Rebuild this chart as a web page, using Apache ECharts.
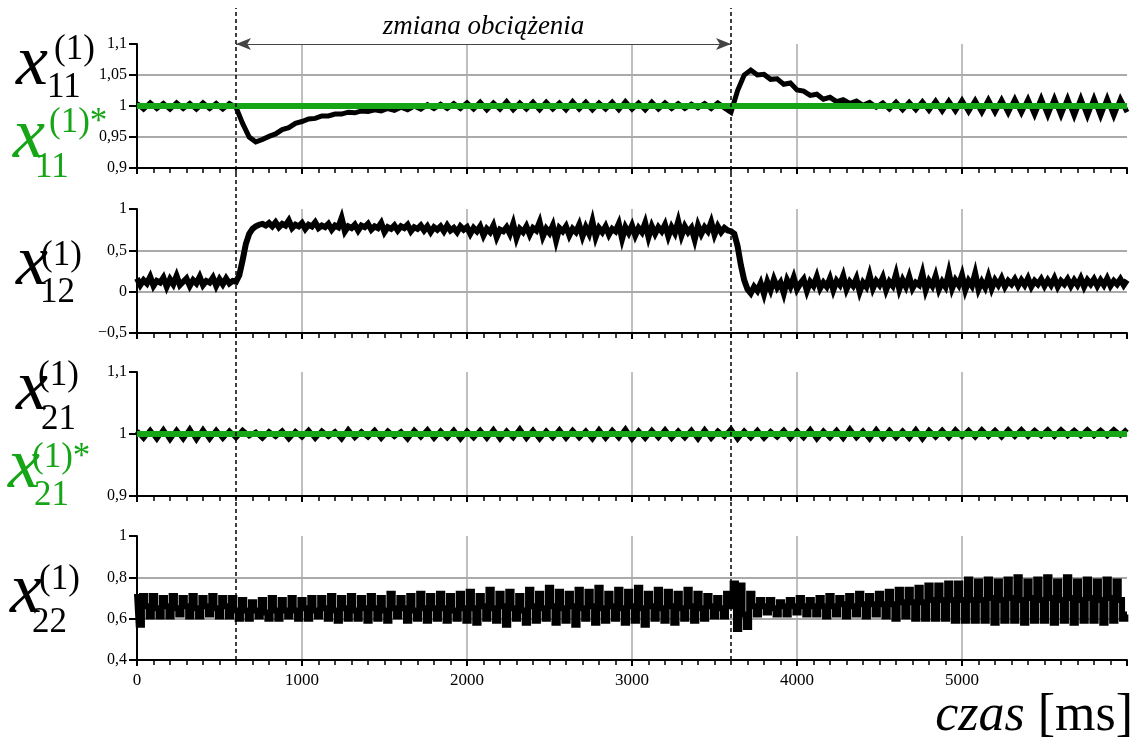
<!DOCTYPE html>
<html><head><meta charset="utf-8">
<script src="https://cdn.jsdelivr.net/npm/echarts@6/dist/echarts.min.js"></script>
<style>html,body{margin:0;padding:0;background:#fff}#c{width:1142px;height:744px}</style>
</head><body><div id="c"></div>
<script>
// ---------- data ----------
const X_MIN = 0, X_MAX = 6000, X_STEP = 1000;
const dt11 = 40, dt12 = 20, dt21 = 40, dt22 = 20;   // sample intervals [ms]
const eventTimes = [600, 3600];
const annotation = 'zmiana obciążenia';
const xTitleItalic = 'czas', xTitleUnit = '[ms]';

const x11 = [1.004,0.995,1.005,0.996,1.004,0.995,1.005,0.996,1.004,0.995,1.005,0.996,1.004,0.995,1.004,0.998,
 0.972,0.950,0.942,0.946,0.951,0.955,0.962,0.965,0.972,0.975,0.979,0.980,0.984,0.984,0.987,0.987,0.990,0.989,0.992,0.991,
 0.994,0.992,0.996,0.993,0.998,0.994,1.000,0.995,1.002,0.996,1.003,0.996,1.004,0.996,1.005,
 0.995,1.006,0.994,1.005,0.995,1.007,0.994,1.005,0.995,
 1.006,0.994,1.006,0.995,1.005,0.994,1.007,0.995,1.006,0.994,
 1.005,0.995,1.006,0.994,1.007,0.995,1.005,0.994,1.006,0.995,
 1.005,0.996,1.004,0.996,1.003,0.997,1.004,0.996,1.005,0.997,
 0.990,1.025,1.050,1.058,1.050,1.051,1.043,1.044,1.035,1.037,1.026,1.024,1.017,1.019,1.011,1.014,1.007,1.010,1.004,1.008,1.001,1.006,0.998,
 1.005,0.995,1.006,0.994,1.006,0.994,1.007,0.993,1.008,0.992,
 1.008,0.992,1.009,0.991,1.009,0.990,1.010,0.990,1.010,0.989,
 1.011,0.989,1.011,0.986,1.012,0.985,1.012,0.985,1.012,0.984,
 1.012,0.984,1.012,0.984,1.012,0.984,1.011,0.990];
const x11Ref = [1, 1];

const x12 = [
 0.16,0.08,0.14,0.10,0.18,0.07,0.13,0.11,0.17,0.06,0.15,0.09,0.19,0.08,0.12,0.16,0.07,0.14,0.10,0.18,
 0.08,0.13,0.11,0.17,0.07,0.15,0.09,0.16,0.10,0.13,0.12,
 0.20,0.38,0.58,0.70,0.76,0.79,0.81,0.82,0.80,0.83,
 0.79,0.84,0.78,0.82,0.80,0.86,0.77,0.81,0.79,0.83,
 0.76,0.81,0.79,0.84,0.77,0.80,0.78,0.82,0.75,0.80,
 0.78,0.89,0.73,0.79,0.77,0.81,0.74,0.80,0.78,0.82,
 0.75,0.79,0.77,0.83,0.72,0.78,0.76,0.80,0.74,0.79,
 0.77,0.81,0.73,0.78,0.76,0.80,0.74,0.79,0.72,0.78,
 0.75,0.79,0.73,0.80,0.74,0.77,0.72,0.79,0.75,0.78,
 0.70,0.77,0.73,0.79,0.68,0.76,0.72,0.80,0.66,0.75,
 0.73,0.78,0.70,0.82,0.65,0.76,0.72,0.79,0.69,0.77,
 0.74,0.84,0.67,0.76,0.71,0.80,0.62,0.77,0.73,0.79,
 0.68,0.76,0.72,0.81,0.67,0.78,0.70,0.85,0.66,0.77,
 0.72,0.79,0.69,0.76,0.73,0.82,0.64,0.78,0.71,0.80,
 0.68,0.77,0.72,0.83,0.66,0.79,0.70,0.78,0.73,0.81,
 0.67,0.78,0.71,0.85,0.68,0.79,0.72,0.77,0.63,0.80,
 0.70,0.78,0.73,0.84,0.69,0.79,0.72,0.77,0.74,0.73,
 0.70,0.55,0.32,0.14,0.03,-0.02,0.06,0.01,0.10,-0.03,
 0.12,0.02,0.15,0.05,0.11,-0.02,0.14,0.06,0.17,0.03,
 0.10,0.15,0.01,0.12,0.07,0.18,0.04,0.11,0.06,0.16,
 0.02,0.13,0.08,0.19,0.03,0.12,0.07,0.16,0.00,0.11,
 0.06,0.20,0.04,0.13,0.08,0.17,0.02,0.12,0.07,0.21,
 0.03,0.14,0.06,0.18,0.04,0.11,0.08,0.22,0.02,0.13,
 0.07,0.19,0.03,0.12,0.06,0.23,0.04,0.14,0.08,0.20,
 0.02,0.13,0.07,0.22,0.03,0.12,0.05,0.18,0.04,0.14,
 0.08,0.16,0.06,0.13,0.09,0.15,0.07,0.14,0.08,0.16,
 0.06,0.13,0.09,0.15,0.07,0.14,0.08,0.16,0.06,0.13,
 0.09,0.15,0.07,0.14,0.08,0.16,0.06,0.14,0.09,0.15,
 0.07,0.14,0.08,0.16,0.07,0.13,0.09,0.15,0.08,0.14];

const x21 = [1.005,0.993,1.006,0.992,1.007,0.991,1.006,0.992,1.008,0.991,1.007,0.992,1.006,0.993,1.005,0.994,
 1.006,0.997,1.003,0.993,1.004,0.996,1.005,0.992,1.004,0.995,1.006,0.993,1.005,0.996,1.004,0.992,1.007,0.994,1.004,0.995,
 1.006,0.993,1.005,0.996,1.004,0.992,1.006,0.995,1.007,0.993,1.005,0.994,1.006,0.992,1.005,
 0.994,1.006,0.993,1.007,0.992,1.005,0.994,1.008,0.993,1.006,0.992,1.005,0.994,1.007,0.993,1.006,0.994,1.005,0.992,1.007,
 0.993,1.006,0.994,1.008,0.992,1.005,0.993,1.006,0.994,1.007,0.993,1.005,0.994,1.006,0.992,1.007,0.993,1.005,0.996,
 1.008,0.992,1.005,0.994,1.006,0.993,1.004,0.995,1.006,0.993,
 1.005,0.994,1.007,0.992,1.005,0.994,1.006,0.993,1.008,0.994,
 1.005,0.992,1.007,0.993,1.006,0.994,1.005,0.993,1.007,0.992,
 1.006,0.995,1.006,0.994,1.007,0.996,1.006,0.995,1.007,0.996,
 1.006,0.995,1.007,0.996,1.007,0.996,1.006,0.997,1.007,0.996,
 1.007,0.997,1.006,0.997,1.007,0.997,1.006,0.997,1.007,0.998,1.008];
const x21Ref = [1, 1];

const x22 = [
 0.72,0.57,0.71, 0.66,0.61,0.71, 0.65,0.61,0.70, 0.66,0.61,0.71, 0.65,0.62,0.70, 0.66,0.61,0.71, 0.65,0.61,0.70,
 0.66,0.62,0.71, 0.65,0.61,0.70, 0.66,0.61,0.70, 0.64,
 0.60,0.69,0.64, 0.60,0.68,0.64, 0.61,0.69,0.63, 0.60,0.70,0.64, 0.60,0.69,0.64, 0.61,0.70,0.64, 0.60,0.69,0.65,
 0.60,0.70,0.64, 0.61,0.70,0.65, 0.60,0.71,0.64,
 0.59,0.70,0.65, 0.60,0.71,0.64, 0.60,0.70,0.65, 0.59,0.71,0.65, 0.60,0.70,0.64, 0.59,0.72,0.65, 0.61,0.70,0.65,
 0.59,0.71,0.64, 0.60,0.72,0.65, 0.59,0.71,0.65,
 0.60,0.72,0.65, 0.59,0.71,0.64, 0.60,0.72,0.65, 0.59,
 0.73,0.65,0.58, 0.71,0.66,0.60, 0.74,0.65,0.59, 0.72,0.66,0.57, 0.73,0.65,0.60, 0.71,0.64,0.58, 0.74,0.66,0.59,
 0.72,0.65,0.60, 0.75,0.66,0.58, 0.73,0.65,0.59,
 0.72,0.66,0.57, 0.74,0.65,0.60, 0.73,0.66,0.58, 0.75,0.65,0.59, 0.72,0.66,0.60, 0.74,0.65,0.58, 0.73,0.66,0.59,
 0.75,0.65,0.57, 0.72,0.66,0.60, 0.74,0.65,0.59,
 0.73,0.66,0.58, 0.72,0.65,0.60, 0.74,0.66,0.59, 0.72,0.65,0.60, 0.71,0.66,0.61, 0.70,0.65,0.61, 0.72,0.66,
 0.77,0.55,0.76,0.62,0.56,0.72,
 0.66,0.62,0.69, 0.66,0.63,0.69, 0.65,0.62,0.68, 0.66,0.62,0.69, 0.66,0.63,0.70, 0.66,0.62,0.69, 0.66,0.62,0.70,
 0.66,0.61,0.71, 0.66,0.62,0.70, 0.67,0.61,0.71, 0.66,0.62,0.72, 0.67,0.61,0.71, 0.67,0.62,0.72,
 0.67,0.61,0.73, 0.67,0.60,0.74, 0.68,0.61,0.74, 0.68,0.60,0.75, 0.68,0.60,0.76, 0.69,0.60,0.76, 0.69,0.60,0.77,
 0.69,0.59,0.77, 0.69,
 0.59,0.79,0.69, 0.59,0.78,0.69, 0.59,0.79,0.70, 0.58,0.78,0.69, 0.59,0.79,0.70, 0.59,0.80,0.69, 0.58,0.78,0.70,
 0.59,0.79,0.69, 0.59,0.80,0.70, 0.58,0.78,0.69,
 0.59,0.80,0.70, 0.58,0.78,0.69, 0.59,0.79,0.70, 0.59,0.78,0.69, 0.58,0.79,0.70, 0.59,0.78,0.69, 0.60,0.62];

// y-axis ranges and tick steps per panel
const yMin = [0.9, -0.5, 0.9, 0.4];
const yMax = [1.1, 1, 1.1, 1];
const yStep = [0.05, 0.5, 0.1, 0.2];

// ---------- chart ----------
const SERIF = 'Liberation Serif, Times New Roman, serif';
const GREEN = '#16a516';
const chart = echarts.init(document.getElementById('c'), null, {renderer: 'canvas'});

const gridTops = [44, 209, 372, 536];
const gridH = 124, gridL = 137, gridW = 990;
const pts = (arr, dt) => arr.map((v, i) => [i * dt, v]);
const fmtY = v => String(+(+v).toFixed(2)).replace('.', ',').replace('-', '\u2212');

const grids = gridTops.map(t => ({left: gridL, top: t, width: gridW, height: gridH, outerBoundsMode: 'none', containLabel: false}));
grids.push({left: gridL, top: 8, width: gridW, bottom: 84, outerBoundsMode: 'none', containLabel: false});

const xAxes = gridTops.map((t, i) => ({
  gridIndex: i, type: 'value', min: X_MIN, max: X_MAX, interval: X_STEP,
  axisLine: {show: true, onZero: false, lineStyle: {color: '#000', width: 2}},
  axisTick: {show: true, length: 6, lineStyle: {color: '#000', width: 2}},
  minorTick: {show: true, splitNumber: 10, length: 5, lineStyle: {color: '#000', width: 1.5}},
  axisLabel: {show: i === 3, color: '#000', fontFamily: SERIF, fontSize: 17, margin: 12,
              showMaxLabel: false, formatter: v => String(v)},
  splitLine: {show: true, showMinLine: false, showMaxLine: false, lineStyle: {color: '#aaaaaa', width: 1.5}}
}));
xAxes.push({gridIndex: 4, type: 'value', min: X_MIN, max: X_MAX, show: false});

const yAxes = gridTops.map((t, i) => ({
  gridIndex: i, type: 'value', min: yMin[i], max: yMax[i], interval: yStep[i],
  axisLine: {show: true, onZero: false, lineStyle: {color: '#000', width: 2}},
  axisTick: {show: true, length: 8, lineStyle: {color: '#000', width: 2}},
  axisLabel: {color: '#000', fontFamily: SERIF, fontSize: 16, margin: 10, formatter: fmtY},
  splitLine: {show: true, showMinLine: false, showMaxLine: false, lineStyle: {color: '#aaaaaa', width: 2}}
}));
yAxes.push({gridIndex: 4, type: 'value', min: 0, max: 1, show: false});

const blackLine = (data, i, w, extra) => Object.assign({
  type: 'line', xAxisIndex: i, yAxisIndex: i, data, showSymbol: false, symbol: 'none',
  animation: false, silent: true,
  lineStyle: {color: '#000', width: w, join: 'miter', miterLimit: 6}
}, extra || {});
const greenLine = (ref, i) => ({
  type: 'line', xAxisIndex: i, yAxisIndex: i, data: [[X_MIN, ref[0]], [X_MAX, ref[1]]],
  showSymbol: false, symbol: 'none', animation: false, silent: true,
  lineStyle: {color: GREEN, width: 6}
});

const series = [
  blackLine(pts(x11, dt11), 0, 5, {
    markLine: {
      silent: true, animation: false, symbol: ['arrow', 'arrow'], symbolSize: [9, 15],
      lineStyle: {color: '#444', width: 1.2, type: 'solid'},
      label: {show: true, position: 'middle', formatter: annotation, color: '#000',
              fontFamily: SERIF, fontStyle: 'italic', fontSize: 27, distance: 4},
      data: [[{coord: [eventTimes[0], yMax[0]]}, {coord: [eventTimes[1], yMax[0]]}]]
    }
  }),
  greenLine(x11Ref, 0),
  blackLine(pts(x12, dt12), 1, 6),
  blackLine(pts(x21, dt21), 2, 5),
  greenLine(x21Ref, 2),
  blackLine(pts(x22, dt22), 3, 6, {step: 'middle', lineStyle: {color: '#000', width: 6, join: 'miter'}}),
  {
    type: 'scatter', xAxisIndex: 4, yAxisIndex: 4, symbolSize: 0, silent: true, animation: false,
    data: eventTimes.map(t => [t, 0]),
    markLine: {
      silent: true, animation: false, symbol: 'none',
      lineStyle: {color: '#000', width: 1.5, type: [4, 3]},
      label: {show: false},
      data: eventTimes.map(t => ({xAxis: t}))
    }
  }
];

// symbol labels (x with sub/superscripts)
const txt = (s, x, base, size, color, italic) => ({
  type: 'text', x: x, y: base - 0.34 * size, silent: true,
  style: {text: s, fill: color, font: (italic ? 'italic ' : '') + size + 'px ' + SERIF,
          verticalAlign: 'middle', align: 'left'}
});
const XS = 72, SS = 35;
const symLabel = (x0, xb, supX, supB, subX, subB, sub, sup, color) => [
  txt('x', x0, xb, XS, color, true), txt(sup, supX, supB, SS, color, false), txt(sub, subX, subB, SS, color, false)
];
const graphics = [].concat(
  symLabel(16, 90, 54, 62, 47, 100, '11', '(1)', '#000'),
  symLabel(13, 163, 49, 135, 35, 180, '11', '(1)*', GREEN),
  symLabel(16, 290, 41, 268, 40, 305, '12', '(1)', '#000'),
  symLabel(16, 415, 38, 388, 41, 432, '21', '(1)', '#000'),
  symLabel(8, 493, 32, 470, 34, 508, '21', '(1)*', GREEN),
  symLabel(10, 618, 39, 592, 32, 635, '22', '(1)', '#000'),
  [{
    type: 'text', right: 9, top: 690, silent: true,
    style: {text: '{i|' + xTitleItalic + ' }{n|' + xTitleUnit + '}', fill: '#000',
      rich: {i: {fontFamily: SERIF, fontStyle: 'italic', fontSize: 52},
             n: {fontFamily: SERIF, fontSize: 52}}}
  }]
);

chart.setOption({
  animation: false,
  backgroundColor: '#fff',
  grid: grids, xAxis: xAxes, yAxis: yAxes, series: series,
  graphic: graphics
});
</script></body></html>
